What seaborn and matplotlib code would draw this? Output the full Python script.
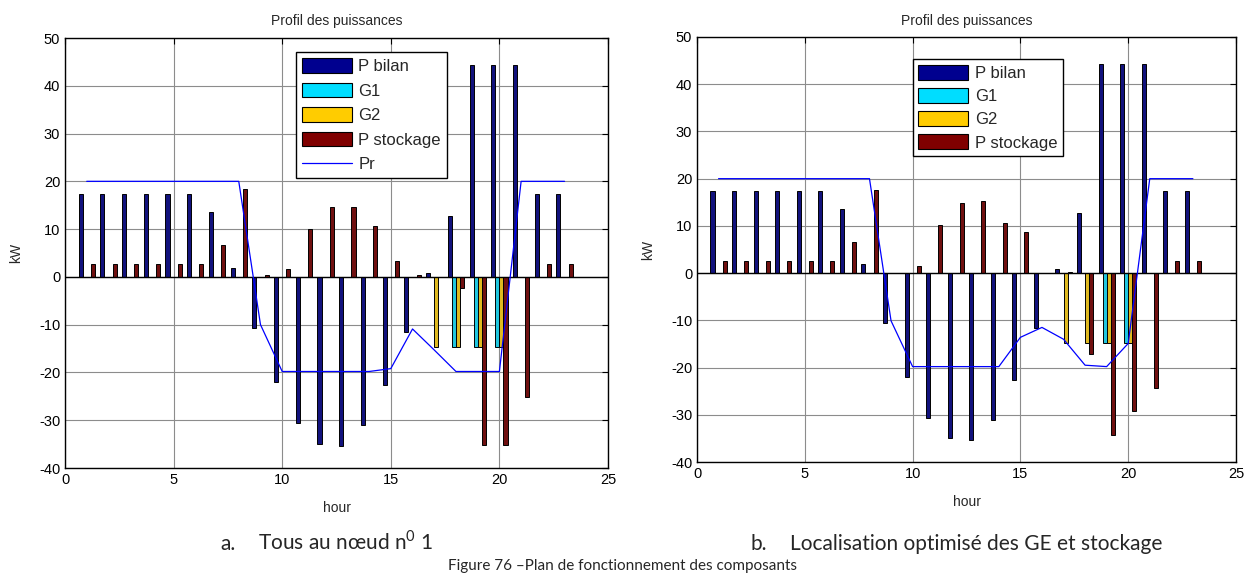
import pandas as pd
import seaborn as sns
import matplotlib.pyplot as plt
from matplotlib.patches import Patch
from matplotlib.lines import Line2D

# hours of the day (one group of bars per hour)
hours = [1, 2, 3, 4, 5, 6, 7, 8, 9, 10, 11, 12, 13, 14, 15, 16, 17, 18, 19, 20, 21, 22, 23]

# power balance, same in both cases
p_bilan = [17.4, 17.4, 17.4, 17.4, 17.4, 17.4, 13.5, 1.9, -10.6, -21.9, -30.6, -35.0,
           -35.3, -31.0, -22.6, -11.6, 0.8, 12.7, 44.3, 44.3, 44.3, 17.4, 17.4]

# case a: everything at node 1
g1_a = [0, 0, 0, 0, 0, 0, 0, 0, 0, 0, 0, 0, 0, 0, 0, 0, 0, -14.7, -14.7, -14.7, 0, 0, 0]
g2_a = [0, 0, 0, 0, 0, 0, 0, 0, 0, 0, 0, 0, 0, 0, 0, 0, -14.7, -14.7, -14.7, -14.7, 0, 0, 0]
stock_a = [2.65, 2.65, 2.65, 2.65, 2.65, 2.65, 6.6, 18.4, 0.4, 1.7, 10.0, 14.6, 14.6, 10.7,
           3.3, 0.4, 0, -2.4, -35.2, -35.2, -25.2, 2.65, 2.65]
pr_a = [20, 20, 20, 20, 20, 20, 20, 20, -10.0, -19.8, -19.8, -19.8, -19.8, -19.8, -19.2,
        -10.9, -15.3, -19.8, -19.8, -19.8, 20, 20, 20]

# case b: optimised location of generators and storage
g1_b = [0, 0, 0, 0, 0, 0, 0, 0, 0, 0, 0, 0, 0, 0, 0, 0, 0, 0, -14.8, -14.8, 0, 0, 0]
g2_b = [0, 0, 0, 0, 0, 0, 0, 0, 0, 0, 0, 0, 0, 0, 0, 0, -14.8, -14.8, -14.8, -14.8, 0, 0, 0]
stock_b = [2.6, 2.6, 2.6, 2.6, 2.6, 2.6, 6.6, 17.7, 0, 1.5, 10.2, 14.9, 15.2, 10.7,
           8.6, 0, 0.2, -17.2, -34.3, -29.1, -24.3, 2.6, 2.6]
pr_b = [20, 20, 20, 20, 20, 20, 20, 20, -10.1, -19.8, -19.8, -19.8, -19.8, -19.8, -13.6,
        -11.5, -14.0, -19.5, -19.8, -14.9, 20, 20, 20]

series = ['P bilan', 'G1', 'G2', 'P stockage']
colors = {'P bilan': '#00008F', 'G1': '#00DDFF', 'G2': '#FFCC00', 'P stockage': '#800000'}

sns.set_theme(style='white')
plt.rcParams['font.family'] = ['Liberation Sans', 'DejaVu Sans']
plt.rcParams['axes.unicode_minus'] = False
plt.rcParams['mathtext.fontset'] = 'custom'
plt.rcParams['mathtext.rm'] = 'Lato'


def draw(ax, g1, g2, stock, pr, show_pr):
    df = pd.DataFrame({
        'hour': hours * 4,
        'kW': p_bilan + g1 + g2 + stock,
        'serie': [s for s in series for _ in hours],
    })
    sns.barplot(data=df, x='hour', y='kW', hue='serie', hue_order=series, palette=colors,
                native_scale=True, width=0.75, errorbar=None, edgecolor='black',
                linewidth=0.7, legend=False, ax=ax, zorder=3)
    ax.axhline(0, color='black', lw=1, zorder=4)
    sns.lineplot(x=hours, y=pr, color='#0000FF', lw=0.9, ax=ax, zorder=5)

    ax.set_xlim(0, 25)
    ax.set_ylim(-40, 50)
    ax.set_xticks(range(0, 26, 5))
    ax.set_yticks(range(-40, 51, 10))
    ax.grid(True, color='#8c8c8c', lw=0.8)
    ax.set_axisbelow(True)
    ax.tick_params(direction='in', top=True, right=True, length=4, labelsize=10.5,
                   colors='black', width=0.8)
    for sp in ax.spines.values():
        sp.set_color('black')
        sp.set_linewidth(1)
    ax.set_title('Profil des puissances', fontsize=10, pad=9)
    ax.set_xlabel('hour', fontsize=10, labelpad=10)
    ax.set_ylabel('kW', fontsize=10, labelpad=11)

    handles = [Patch(facecolor=colors[s], edgecolor='black', lw=0.8) for s in series]
    labels = list(series)
    if show_pr:
        handles.append(Line2D([], [], color='#0000FF', lw=0.9))
        labels.append('Pr')
    return handles, labels


legend_style = dict(loc='upper left', fontsize=12, handlelength=3, handleheight=1.0,
                    borderpad=0.35, handletextpad=0.4, borderaxespad=0,
                    fancybox=False, framealpha=1, edgecolor='black')

fig = plt.figure(figsize=(12.44, 5.75), dpi=100)
ax1 = fig.add_axes([65 / 1244, 107 / 575, 543 / 1244, 430 / 575])
ax2 = fig.add_axes([697 / 1244, 113 / 575, 539 / 1244, 425 / 575])

h, l = draw(ax1, g1_a, g2_a, stock_a, pr_a, True)
leg = ax1.legend(h, l, bbox_to_anchor=(0.425, 0.967), labelspacing=0.5, **legend_style)
leg.get_frame().set_linewidth(1)

h, l = draw(ax2, g1_b, g2_b, stock_b, pr_b, False)
leg = ax2.legend(h, l, bbox_to_anchor=(0.40, 0.948), labelspacing=0.42, **legend_style)
leg.get_frame().set_linewidth(1)

cap = dict(fontsize=15, family=['Lato', 'DejaVu Sans'], va='baseline')
y_cap = 1 - 550 / 575
fig.text(220 / 1244, y_cap, 'a.', **cap)
fig.text(258 / 1244, y_cap, r'Tous au nœud n$^{\mathrm{0}}$ 1', **cap)
fig.text(750 / 1244, y_cap, 'b.', **cap)
fig.text(790 / 1244, y_cap, 'Localisation optimisé des GE et stockage', **cap)
fig.text(0.5, 1 - 570 / 575, 'Figure 76 \u2013Plan de fonctionnement des composants',
         fontsize=11, family=['Lato', 'DejaVu Sans'], ha='center', va='baseline')

fig.savefig('out.png', dpi=100)
